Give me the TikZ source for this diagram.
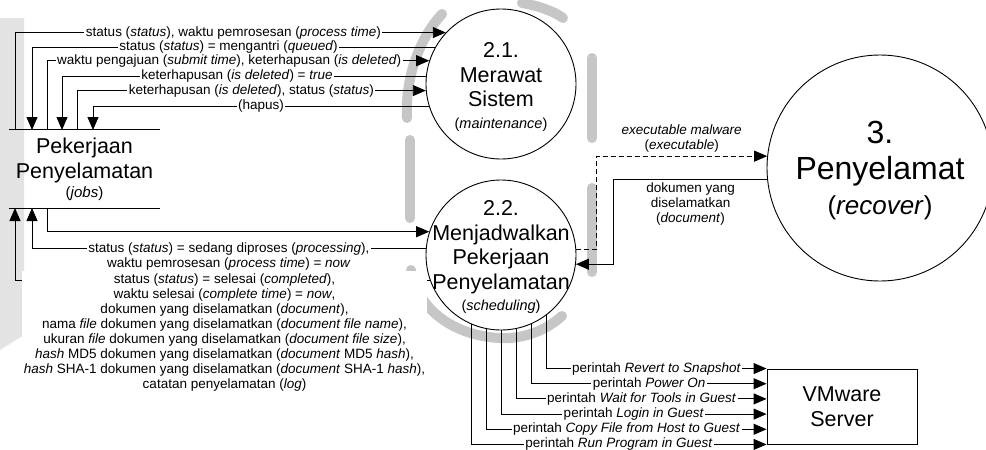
\documentclass[tikz,border=0pt]{standalone}
\usepackage{fontspec}
\setmainfont{Liberation Sans}
\usetikzlibrary{arrows.meta,calc}
\begin{document}
\begin{tikzpicture}[x=1pt,y=-1pt,
  flow/.style={line width=0.9pt},
  arr/.style={flow,-{Triangle[length=13pt,width=11pt]}},
  dashflow/.style={dash pattern=on 5pt off 3pt},
  lbl/.style={fill=white,inner xsep=1.5pt,inner ysep=0.5pt,font=\fontsize{13.5}{15}\selectfont,align=center},
  proc/.style={circle,draw,line width=0.9pt,fill=white,inner sep=0pt},
  big/.style={font=\fontsize{21.5}{24.5}\selectfont,align=center},
  wm/.style={line width=10pt,line cap=round,draw=gray!45},
  wmfill/.style={fill=gray!22,draw=none}]
\useasboundingbox (0,0) rectangle (986,450);

% watermark
\fill[wmfill] (0,18) -- (24,18) -- (24,335) -- (0,350) -- cycle;
\draw[wm] (442,14) .. controls (418,40) and (405,80) .. (407,118);
\draw[wm] (522,3) .. controls (540,6) and (555,12) .. (563,18);
\draw[wm] (410,140) -- (410,218);
\draw[wm] (592,58) -- (592,138);
\draw[wm] (592,188) -- (592,272);
\draw[wm] (411,270) .. controls (420,320) and (470,340) .. (510,338) .. controls (535,336) and (552,325) .. (562,316);

% processes
\node[proc,minimum size=150pt] (p21) at (501,84) {};
\node[big] (p21t) at (501,87) {2.1.\\Merawat\\Sistem\\[-3pt]{\fontsize{14.5}{17}\selectfont(\textit{maintenance})}};
\node[proc,minimum size=150pt] (p22) at (501,255) {};
\node[big] (p22t) at (501,257.3) {2.2.\\Menjadwalkan\\Pekerjaan\\Penyelamatan\\[-3pt]{\fontsize{14.5}{17}\selectfont(\textit{scheduling})}};
\node[proc,minimum size=226pt] (p3) at (880,168) {};
\node[font=\fontsize{32}{36.5}\selectfont,align=center] (p3t) at (880,170.6) {3.\\Penyelamat\\[-1.5pt]{\fontsize{26}{30}\selectfont(\textit{recover})}};

% data store
\node[big,minimum width=151pt,minimum height=78pt,inner sep=0pt,font=\fontsize{21.5}{25}\selectfont] (store) at (84.5,169)
  {Pekerjaan\\Penyelamatan\\[-6pt]{\fontsize{15}{17}\selectfont(\textit{jobs})}};
\draw[flow] (store.north west) -- (store.north east);
\draw[flow] (store.south west) -- (store.south east);

% external entity
\node[draw,flow,fill=white,minimum width=150pt,minimum height=75pt,big,font=\fontsize{21.5}{25}\selectfont] (vm) at (842,406.5) {VMware\\Server};

% store ends
\coordinate (s1) at (15,130);
\coordinate (s2) at (32,130);
\coordinate (s3) at (47,130);
\coordinate (s4) at (62,130);
\coordinate (s5) at (77,130);
\coordinate (s6) at (93,130);
\coordinate (b1) at (15,208);
\coordinate (b2) at (32,208);
\coordinate (b3) at (47,208);

% flows store <-> 2.1
\draw[arr] (s1) |- (p21.137.2) node[lbl,pos=0.75,xshift=3pt] (l1) {status (\textit{status}), waktu pemrosesan (\textit{process time})};
\draw[arr] (p21.151.3) -| (s2) node[lbl,pos=0.25,xshift=-5pt] (l2) {status (\textit{status}) = mengantri (\textit{queued})};
\draw[arr] (s3) |- (p21.162.9) node[lbl,pos=0.75,xshift=-9pt] (l3) {waktu pengajuan (\textit{submit time}), keterhapusan (\textit{is deleted})};
\draw[arr] (p21.174.6) -| (s4) node[lbl,pos=0.25,xshift=-7pt] (l4) {keterhapusan (\textit{is deleted}) = \textit{true}};
\draw[arr] (s5) |- (p21.185.4) node[lbl,pos=0.75] (l5) {keterhapusan (\textit{is deleted}), status (\textit{status})};
\draw[arr] (p21.197.9) -| (s6) node[lbl,pos=0.25] (l6) {(hapus)};

% flows store <-> 2.2
\draw[arr] (b3) |- (p22.162.9);
\draw[arr] (p22.175.4) -| (b2) node[lbl,pos=0.25,yshift=-8pt] (lB) {status (\textit{status}) = sedang diproses (\textit{processing}),\\waktu pemrosesan (\textit{process time}) = \textit{now}};
\draw[arr] (p22.200.3) -| (b1) node[lbl,pos=0.25,yshift=-51.5pt,xshift=2pt,inner ysep=3pt] (lC) {status (\textit{status}) = selesai (\textit{completed}),\\
waktu selesai (\textit{complete time}) = \textit{now},\\
dokumen yang diselamatkan (\textit{document}),\\
nama \textit{file} dokumen yang diselamatkan (\textit{document file name}),\\
ukuran \textit{file} dokumen yang diselamatkan (\textit{document file size}),\\
\textit{hash} MD5 dokumen yang diselamatkan (\textit{document} MD5 \textit{hash}),\\
\textit{hash} SHA-1 dokumen yang diselamatkan (\textit{document} SHA-1 \textit{hash}),\\
catatan penyelamatan (\textit{log})};

% flows 2.2 <-> 3
\draw[arr,dashflow] (p22.4.6) -- ++(20,0) |- (p3.174.9) node[lbl,pos=0.75,yshift=17.5pt] (lX) {\textit{executable malware}\\(\textit{executable})};
\draw[arr] (p3.186.6) -| ([xshift=38pt]p22.353.9) node[lbl,pos=0.25,yshift=-24pt] (lD) {dokumen yang\\diselamatkan\\(\textit{document})} -- (p22.353.9);

% flows 2.2 -> VMware
\draw[arr] (p22.307.8) |- (vm.north west) node[lbl,pos=0.75] (c1) {perintah \textit{Revert to Snapshot}};
\draw[arr] (p22.294.4) |- ($(vm.north west)!0.2!(vm.south west)$) node[lbl,pos=0.75] (c2) {perintah \textit{Power On}};
\draw[arr] (p22.282.3) |- ($(vm.north west)!0.4!(vm.south west)$) node[lbl,pos=0.75] (c3) {perintah \textit{Wait for Tools in Guest}};
\draw[arr] (p22.270) |- ($(vm.north west)!0.6!(vm.south west)$) node[lbl,pos=0.75] (c4) {perintah \textit{Login in Guest}};
\draw[arr] (p22.259.2) |- ($(vm.north west)!0.8!(vm.south west)$) node[lbl,pos=0.75] (c5) {perintah \textit{Copy File from Host to Guest}};
\draw[arr] (p22.247.2) |- (vm.south west) node[lbl,pos=0.75] (c6) {perintah \textit{Run Program in Guest}};
\end{tikzpicture}
\end{document}
